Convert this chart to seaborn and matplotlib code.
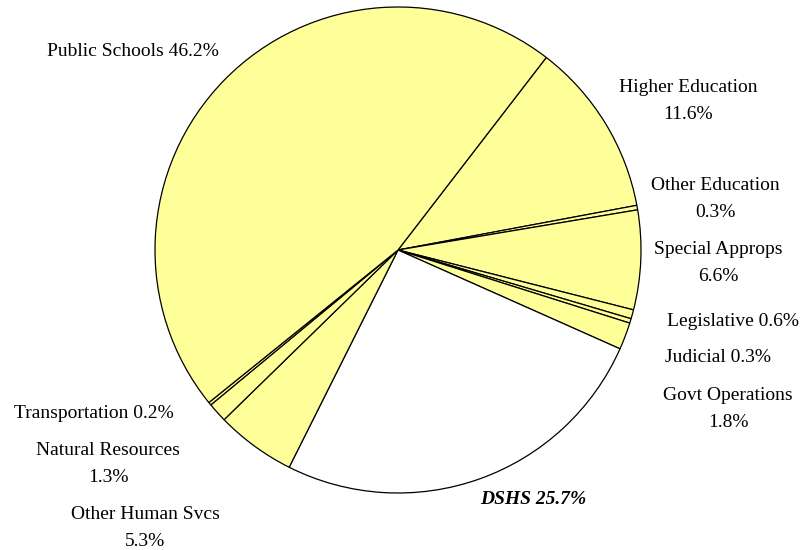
import matplotlib
matplotlib.use("Agg")
import matplotlib.pyplot as plt
import seaborn as sns

sns.set_style("white")
plt.rcParams['font.family'] = ['Liberation Serif', 'DejaVu Serif']
plt.rcParams['text.color'] = 'black'

# clockwise from the Public Schools / Higher Education boundary
categories = ['Higher Education', 'Other Education', 'Special Approps', 'Legislative',
              'Judicial', 'Govt Operations', 'DSHS', 'Other Human Svcs',
              'Natural Resources', 'Transportation', 'Public Schools']
shares = [11.6, 0.3, 6.6, 0.6, 0.3, 1.8, 25.7, 5.3, 1.3, 0.2, 46.2]
label_text = ['Higher Education\n11.6%', 'Other Education\n0.3%', 'Special Approps\n6.6%',
              'Legislative 0.6%', 'Judicial 0.3%', 'Govt Operations\n1.8%', 'DSHS 25.7%',
              'Other Human Svcs\n5.3%', 'Natural Resources\n1.3%', 'Transportation 0.2%',
              'Public Schools 46.2%']
# label centres in pixel coordinates (from top-left)
label_pos = [(688, 101), (715, 199), (718, 263), (733, 321), (718, 358), (728, 409),
             (533, 500), (145, 528), (108, 464), (94, 413), (133, 52)]

yellow = '#FFFF99'
colors = ['white' if c == 'DSHS' else yellow for c in categories]

W, H = 810, 550
fig = plt.figure(figsize=(8.1, 5.5), dpi=100)
ax = fig.add_axes([0, 0, 1, 1])

ax.pie(shares, colors=colors, startangle=52.4, counterclock=False,
       center=(398, H - 250), radius=243, frame=True,
       wedgeprops=dict(edgecolor='black', linewidth=0.9))
ax.set_xlim(0, W)
ax.set_ylim(0, H)
ax.set_aspect('equal')
ax.axis('off')

for name, txt, (x, y) in zip(categories, label_text, label_pos):
    style = dict(fontweight='bold', fontstyle='italic') if name == 'DSHS' else {}
    ax.text(x, H - y, txt, ha='center', va='center', fontsize=14,
            linespacing=1.7, color='black', **style)

fig.savefig('out.png', dpi=100)
